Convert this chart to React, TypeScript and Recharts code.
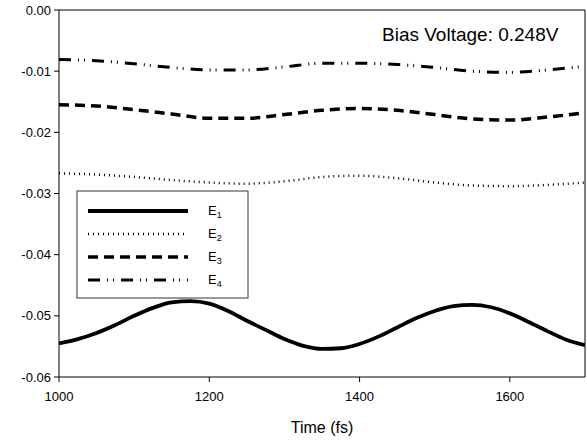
import React from "react";
import { LineChart, Line, XAxis, YAxis, ReferenceLine } from "recharts";

const timesFine = [1000, 1025, 1050, 1075, 1100, 1125, 1150, 1175, 1200, 1225, 1250, 1275, 1300, 1325, 1350, 1375, 1400, 1425, 1450, 1475, 1500, 1525, 1550, 1575, 1600, 1625, 1650, 1675, 1700];
const e1Values = [-0.0545, -0.0538, -0.0528, -0.0515, -0.05, -0.0487, -0.0478, -0.0476, -0.048, -0.0492, -0.0508, -0.0523, -0.0538, -0.0549, -0.0554, -0.0553, -0.0546, -0.0534, -0.0519, -0.0504, -0.0492, -0.0484, -0.0482, -0.0486, -0.0496, -0.051, -0.0525, -0.0539, -0.0548];

const timesCoarse = [1000, 1050, 1100, 1150, 1200, 1250, 1300, 1350, 1400, 1450, 1500, 1550, 1600, 1650, 1700];
const e2Values = [-0.0267, -0.0269, -0.0273, -0.0278, -0.0282, -0.0284, -0.028, -0.0273, -0.0271, -0.0275, -0.0282, -0.0287, -0.0288, -0.0286, -0.0282];
const e3Values = [-0.0155, -0.0157, -0.0163, -0.017, -0.0177, -0.0177, -0.0171, -0.0164, -0.0161, -0.0164, -0.0171, -0.0178, -0.018, -0.0175, -0.0168];
const e4Values = [-0.0081, -0.0083, -0.0088, -0.0094, -0.0098, -0.0098, -0.0093, -0.0087, -0.0087, -0.0089, -0.0094, -0.01, -0.0102, -0.0098, -0.0092];

const xTicks = [1000, 1200, 1400, 1600];
const yTicks = [0, -0.01, -0.02, -0.03, -0.04, -0.05, -0.06];
const seriesNames = ["1", "2", "3", "4"];
const titleText = "Bias Voltage: 0.248V";
const xLabel = "Time (fs)";

const e1Data = timesFine.map((t, i) => ({ t, v: e1Values[i] }));
const e2Data = timesCoarse.map((t, i) => ({ t, v: e2Values[i] }));
const e3Data = timesCoarse.map((t, i) => ({ t, v: e3Values[i] }));
const e4Data = timesCoarse.map((t, i) => ({ t, v: e4Values[i] }));

const styles = [
  { w: 3.8, dash: undefined as string | undefined },
  { w: 2.5, dash: "1 4" },
  { w: 3.5, dash: "10 6" },
  { w: 3, dash: "12 7 1 5 1 7" },
];

const FONT = "'Liberation Sans', Arial, sans-serif";

export default function App() {
  const datasets = [e1Data, e2Data, e3Data, e4Data];
  return (
    <div style={{ position: "absolute", left: 0, top: 0, width: 587, height: 441, background: "#fff", fontFamily: FONT }}>
      <LineChart width={587} height={441} margin={{ top: 10, right: 2, left: 0, bottom: 0 }}>
        <XAxis
          dataKey="t"
          type="number"
          domain={[1000, 1700]}
          ticks={xTicks}
          allowDataOverflow
          height={64}
          tickSize={5}
          tickMargin={10}
          stroke="#000"
          tick={{ fill: "#000", fontSize: 13, fontFamily: FONT }}
          label={{ value: xLabel, position: "insideBottom", offset: 8, fill: "#000", fontSize: 16, fontFamily: FONT }}
        />
        <YAxis
          type="number"
          domain={[-0.06, 0]}
          ticks={yTicks}
          allowDataOverflow
          width={59}
          tickSize={5}
          tickMargin={3}
          stroke="#000"
          tickFormatter={(v: number) => (Math.abs(v) < 1e-9 ? "0.00" : v.toFixed(2))}
          tick={{ fill: "#000", fontSize: 13, fontFamily: FONT }}
        />
        <ReferenceLine y={0} stroke="#000" strokeWidth={1} />
        <ReferenceLine x={1700} stroke="#000" strokeWidth={1} />
        {datasets.map((d, i) => (
          <Line
            key={i}
            data={d}
            dataKey="v"
            type="monotone"
            stroke="#000"
            strokeWidth={styles[i].w}
            strokeDasharray={styles[i].dash}
            dot={false}
            activeDot={false}
            isAnimationActive={false}
          />
        ))}
      </LineChart>
      <svg width={587} height={441} style={{ position: "absolute", left: 0, top: 0, pointerEvents: "none" }}>
        <text x={382} y={41} fontSize={19} fontFamily={FONT} fill="#000">{titleText}</text>
        <rect x={77} y={191} width={171} height={107} fill="#fff" stroke="#333" strokeWidth={1} />
        {seriesNames.map((n, i) => {
          const y = 211 + i * 23;
          return (
            <g key={n}>
              <line x1={88} x2={188} y1={y} y2={y} stroke="#000" strokeWidth={i === 0 ? 4 : styles[i].w} strokeDasharray={styles[i].dash} />
              <text x={208} y={y + 4} fontSize={13} fontFamily={FONT} fill="#000">
                E<tspan fontSize={9} dy={3}>{n}</tspan>
              </text>
            </g>
          );
        })}
      </svg>
    </div>
  );
}
